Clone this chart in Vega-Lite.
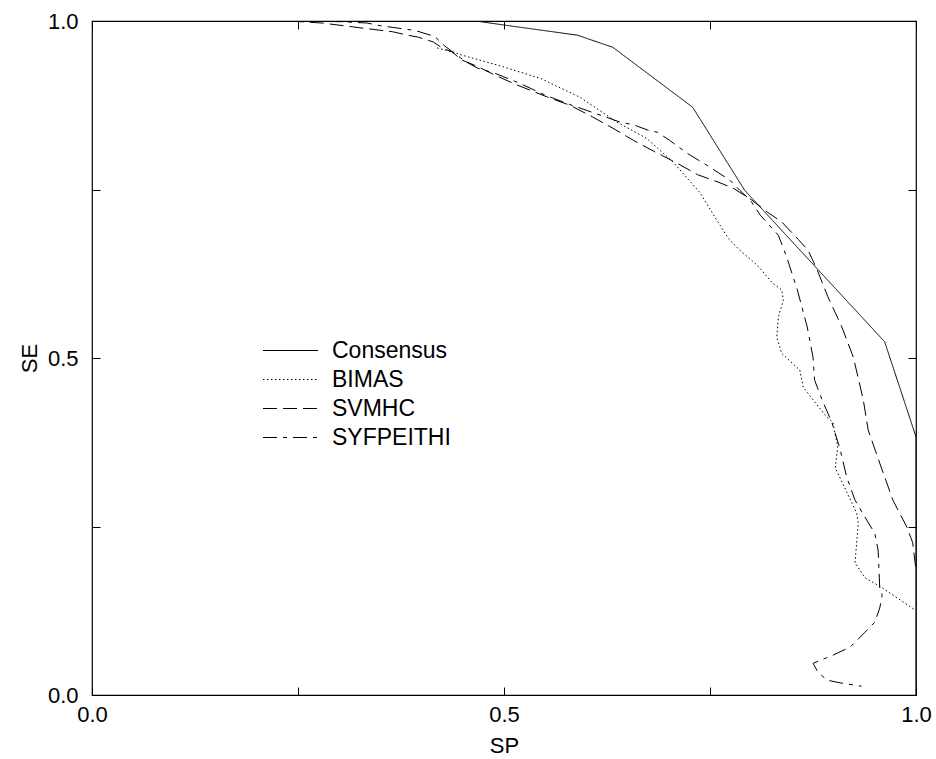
{
"$schema":"https://vega.github.io/schema/vega-lite/v6.json",
"width":824,"height":674,
"autosize":{"type":"none"},
"padding":{"left":92,"top":21,"right":20,"bottom":64},
"background":"white",
"config":{
 "view":{"stroke":"black","strokeWidth":1.2},
 "font":"Liberation Sans",
 "axis":{"grid":false,"domain":false,"tickColor":"black","tickSize":-8,"tickWidth":1,"labelColor":"black","titleColor":"black","labelFontSize":22,"titleFontSize":22,"titleFontWeight":"normal","labelFlush":false,"labelOverlap":false,"labelFont":"Liberation Sans","titleFont":"Liberation Sans"}
},
"data":{"values":[
{"s":"Consensus","i":0,"sp":0.0,"se":1.0},
{"s":"Consensus","i":1,"sp":0.466,"se":1.0},
{"s":"Consensus","i":2,"sp":0.5,"se":0.994},
{"s":"Consensus","i":3,"sp":0.589,"se":0.979},
{"s":"Consensus","i":4,"sp":0.632,"se":0.961},
{"s":"Consensus","i":5,"sp":0.729,"se":0.872},
{"s":"Consensus","i":6,"sp":0.792,"se":0.749},
{"s":"Consensus","i":7,"sp":0.962,"se":0.524},
{"s":"Consensus","i":8,"sp":1.0,"se":0.383},
{"s":"Consensus","i":9,"sp":1.0,"se":0.0},
{"s":"BIMAS","i":0,"sp":0.419,"se":0.960},
{"s":"BIMAS","i":1,"sp":0.438,"se":0.954},
{"s":"BIMAS","i":2,"sp":0.447,"se":0.950},
{"s":"BIMAS","i":3,"sp":0.491,"se":0.935},
{"s":"BIMAS","i":4,"sp":0.544,"se":0.915},
{"s":"BIMAS","i":5,"sp":0.592,"se":0.887},
{"s":"BIMAS","i":6,"sp":0.637,"se":0.850},
{"s":"BIMAS","i":7,"sp":0.673,"se":0.826},
{"s":"BIMAS","i":8,"sp":0.705,"se":0.791},
{"s":"BIMAS","i":9,"sp":0.738,"se":0.745},
{"s":"BIMAS","i":10,"sp":0.758,"se":0.705},
{"s":"BIMAS","i":11,"sp":0.772,"se":0.678},
{"s":"BIMAS","i":12,"sp":0.786,"se":0.660},
{"s":"BIMAS","i":13,"sp":0.807,"se":0.638},
{"s":"BIMAS","i":14,"sp":0.826,"se":0.611},
{"s":"BIMAS","i":15,"sp":0.837,"se":0.601},
{"s":"BIMAS","i":16,"sp":0.839,"se":0.586},
{"s":"BIMAS","i":17,"sp":0.833,"se":0.561},
{"s":"BIMAS","i":18,"sp":0.831,"se":0.531},
{"s":"BIMAS","i":19,"sp":0.837,"se":0.507},
{"s":"BIMAS","i":20,"sp":0.859,"se":0.482},
{"s":"BIMAS","i":21,"sp":0.863,"se":0.457},
{"s":"BIMAS","i":22,"sp":0.875,"se":0.438},
{"s":"BIMAS","i":23,"sp":0.892,"se":0.412},
{"s":"BIMAS","i":24,"sp":0.899,"se":0.405},
{"s":"BIMAS","i":25,"sp":0.905,"se":0.368},
{"s":"BIMAS","i":26,"sp":0.902,"se":0.337},
{"s":"BIMAS","i":27,"sp":0.928,"se":0.270},
{"s":"BIMAS","i":28,"sp":0.930,"se":0.255},
{"s":"BIMAS","i":29,"sp":0.926,"se":0.196},
{"s":"BIMAS","i":30,"sp":0.938,"se":0.174},
{"s":"BIMAS","i":31,"sp":0.959,"se":0.159},
{"s":"BIMAS","i":32,"sp":0.999,"se":0.126},
{"s":"SVMHC","i":0,"sp":0.24,"se":1.0},
{"s":"SVMHC","i":1,"sp":0.279,"se":0.997},
{"s":"SVMHC","i":2,"sp":0.325,"se":0.990},
{"s":"SVMHC","i":3,"sp":0.365,"se":0.984},
{"s":"SVMHC","i":4,"sp":0.383,"se":0.979},
{"s":"SVMHC","i":5,"sp":0.396,"se":0.976},
{"s":"SVMHC","i":6,"sp":0.414,"se":0.969},
{"s":"SVMHC","i":7,"sp":0.425,"se":0.960},
{"s":"SVMHC","i":8,"sp":0.437,"se":0.954},
{"s":"SVMHC","i":9,"sp":0.449,"se":0.942},
{"s":"SVMHC","i":10,"sp":0.467,"se":0.933},
{"s":"SVMHC","i":11,"sp":0.492,"se":0.918},
{"s":"SVMHC","i":12,"sp":0.516,"se":0.905},
{"s":"SVMHC","i":13,"sp":0.553,"se":0.887},
{"s":"SVMHC","i":14,"sp":0.580,"se":0.875},
{"s":"SVMHC","i":15,"sp":0.607,"se":0.858},
{"s":"SVMHC","i":16,"sp":0.632,"se":0.841},
{"s":"SVMHC","i":17,"sp":0.657,"se":0.823},
{"s":"SVMHC","i":18,"sp":0.683,"se":0.806},
{"s":"SVMHC","i":19,"sp":0.710,"se":0.789},
{"s":"SVMHC","i":20,"sp":0.735,"se":0.772},
{"s":"SVMHC","i":21,"sp":0.762,"se":0.760},
{"s":"SVMHC","i":22,"sp":0.778,"se":0.752},
{"s":"SVMHC","i":23,"sp":0.800,"se":0.735},
{"s":"SVMHC","i":24,"sp":0.820,"se":0.716},
{"s":"SVMHC","i":25,"sp":0.837,"se":0.702},
{"s":"SVMHC","i":26,"sp":0.857,"se":0.676},
{"s":"SVMHC","i":27,"sp":0.869,"se":0.660},
{"s":"SVMHC","i":28,"sp":0.880,"se":0.631},
{"s":"SVMHC","i":29,"sp":0.893,"se":0.591},
{"s":"SVMHC","i":30,"sp":0.910,"se":0.546},
{"s":"SVMHC","i":31,"sp":0.924,"se":0.501},
{"s":"SVMHC","i":32,"sp":0.936,"se":0.438},
{"s":"SVMHC","i":33,"sp":0.942,"se":0.393},
{"s":"SVMHC","i":34,"sp":0.956,"se":0.344},
{"s":"SVMHC","i":35,"sp":0.972,"se":0.289},
{"s":"SVMHC","i":36,"sp":0.989,"se":0.249},
{"s":"SVMHC","i":37,"sp":0.996,"se":0.226},
{"s":"SVMHC","i":38,"sp":1.0,"se":0.185},
{"s":"SYFPEITHI","i":0,"sp":0.25,"se":1.0},
{"s":"SYFPEITHI","i":1,"sp":0.301,"se":0.999},
{"s":"SYFPEITHI","i":2,"sp":0.334,"se":0.997},
{"s":"SYFPEITHI","i":3,"sp":0.35,"se":0.993},
{"s":"SYFPEITHI","i":4,"sp":0.392,"se":0.986},
{"s":"SYFPEITHI","i":5,"sp":0.416,"se":0.977},
{"s":"SYFPEITHI","i":6,"sp":0.428,"se":0.963},
{"s":"SYFPEITHI","i":7,"sp":0.44,"se":0.952},
{"s":"SYFPEITHI","i":8,"sp":0.453,"se":0.940},
{"s":"SYFPEITHI","i":9,"sp":0.468,"se":0.930},
{"s":"SYFPEITHI","i":10,"sp":0.49,"se":0.922},
{"s":"SYFPEITHI","i":11,"sp":0.52,"se":0.907},
{"s":"SYFPEITHI","i":12,"sp":0.55,"se":0.890},
{"s":"SYFPEITHI","i":13,"sp":0.58,"se":0.876},
{"s":"SYFPEITHI","i":14,"sp":0.613,"se":0.862},
{"s":"SYFPEITHI","i":15,"sp":0.641,"se":0.850},
{"s":"SYFPEITHI","i":16,"sp":0.657,"se":0.846},
{"s":"SYFPEITHI","i":17,"sp":0.675,"se":0.838},
{"s":"SYFPEITHI","i":18,"sp":0.686,"se":0.835},
{"s":"SYFPEITHI","i":19,"sp":0.701,"se":0.823},
{"s":"SYFPEITHI","i":20,"sp":0.722,"se":0.804},
{"s":"SYFPEITHI","i":21,"sp":0.746,"se":0.786},
{"s":"SYFPEITHI","i":22,"sp":0.774,"se":0.764},
{"s":"SYFPEITHI","i":23,"sp":0.786,"se":0.749},
{"s":"SYFPEITHI","i":24,"sp":0.799,"se":0.734},
{"s":"SYFPEITHI","i":25,"sp":0.811,"se":0.712},
{"s":"SYFPEITHI","i":26,"sp":0.833,"se":0.682},
{"s":"SYFPEITHI","i":27,"sp":0.843,"se":0.650},
{"s":"SYFPEITHI","i":28,"sp":0.856,"se":0.601},
{"s":"SYFPEITHI","i":29,"sp":0.868,"se":0.546},
{"s":"SYFPEITHI","i":30,"sp":0.875,"se":0.501},
{"s":"SYFPEITHI","i":31,"sp":0.877,"se":0.467},
{"s":"SYFPEITHI","i":32,"sp":0.886,"se":0.438},
{"s":"SYFPEITHI","i":33,"sp":0.898,"se":0.404},
{"s":"SYFPEITHI","i":34,"sp":0.908,"se":0.364},
{"s":"SYFPEITHI","i":35,"sp":0.916,"se":0.323},
{"s":"SYFPEITHI","i":36,"sp":0.926,"se":0.289},
{"s":"SYFPEITHI","i":37,"sp":0.938,"se":0.264},
{"s":"SYFPEITHI","i":38,"sp":0.950,"se":0.240},
{"s":"SYFPEITHI","i":39,"sp":0.954,"se":0.215},
{"s":"SYFPEITHI","i":40,"sp":0.956,"se":0.159},
{"s":"SYFPEITHI","i":41,"sp":0.959,"se":0.148},
{"s":"SYFPEITHI","i":42,"sp":0.956,"se":0.129},
{"s":"SYFPEITHI","i":43,"sp":0.950,"se":0.108},
{"s":"SYFPEITHI","i":44,"sp":0.938,"se":0.093},
{"s":"SYFPEITHI","i":45,"sp":0.920,"se":0.071},
{"s":"SYFPEITHI","i":46,"sp":0.899,"se":0.059},
{"s":"SYFPEITHI","i":47,"sp":0.875,"se":0.047},
{"s":"SYFPEITHI","i":48,"sp":0.881,"se":0.034},
{"s":"SYFPEITHI","i":49,"sp":0.892,"se":0.022},
{"s":"SYFPEITHI","i":50,"sp":0.908,"se":0.018},
{"s":"SYFPEITHI","i":51,"sp":0.934,"se":0.013}
]},
"layer":[
 {"mark":{"type":"line","strokeWidth":1,"color":"black","clip":true},
  "encoding":{
   "x":{"field":"sp","type":"quantitative","scale":{"domain":[0,1],"nice":false,"zero":false},
        "axis":{"orient":"bottom","title":"SP","values":[0,0.25,0.5,0.75,1],"labelExpr":"datum.value==0.25||datum.value==0.75?'':format(datum.value,'.1f')","labelFontSize":22,"titleFontSize":22,"labelPadding":17,"titlePadding":10}},
   "y":{"field":"se","type":"quantitative","scale":{"domain":[0,1],"nice":false,"zero":false},
        "axis":{"orient":"left","title":"SE","values":[0,0.25,0.5,0.75,1],"labelExpr":"datum.value==0.25||datum.value==0.75?'':format(datum.value,'.1f')","labelFontSize":22,"titleFontSize":22,"labelPadding":22,"titlePadding":6}},
   "strokeDash":{"field":"s","type":"nominal",
      "scale":{"domain":["Consensus","BIMAS","SVMHC","SYFPEITHI"],"range":[[1,0],[1.5,2.5],[14,6],[14,6,4,6]]},
      "legend":{"orient":"none","legendX":184,"legendY":315,"title":null,"symbolType":"M-2,0H2","symbolSize":756,"symbolStrokeWidth":1,"symbolStrokeColor":"black","symbolFillColor":"transparent","labelFontSize":23,"labelFont":"Liberation Sans","labelColor":"black","labelOffset":27,"rowPadding":2}},
   "order":{"field":"i","type":"quantitative"}
  }},
 {"mark":{"type":"line","strokeWidth":1,"opacity":0},
  "encoding":{
   "x":{"field":"sp","type":"quantitative","scale":{"domain":[0,1],"nice":false,"zero":false},
        "axis":{"orient":"top","title":null,"labels":false,"values":[0,0.25,0.5,0.75,1]}},
   "y":{"field":"se","type":"quantitative","scale":{"domain":[0,1],"nice":false,"zero":false},
        "axis":{"orient":"right","title":null,"labels":false,"values":[0,0.25,0.5,0.75,1]}},
   "detail":{"field":"s"},
   "order":{"field":"i","type":"quantitative"}
  }}
],
"resolve":{"axis":{"x":"independent","y":"independent"}}
}
